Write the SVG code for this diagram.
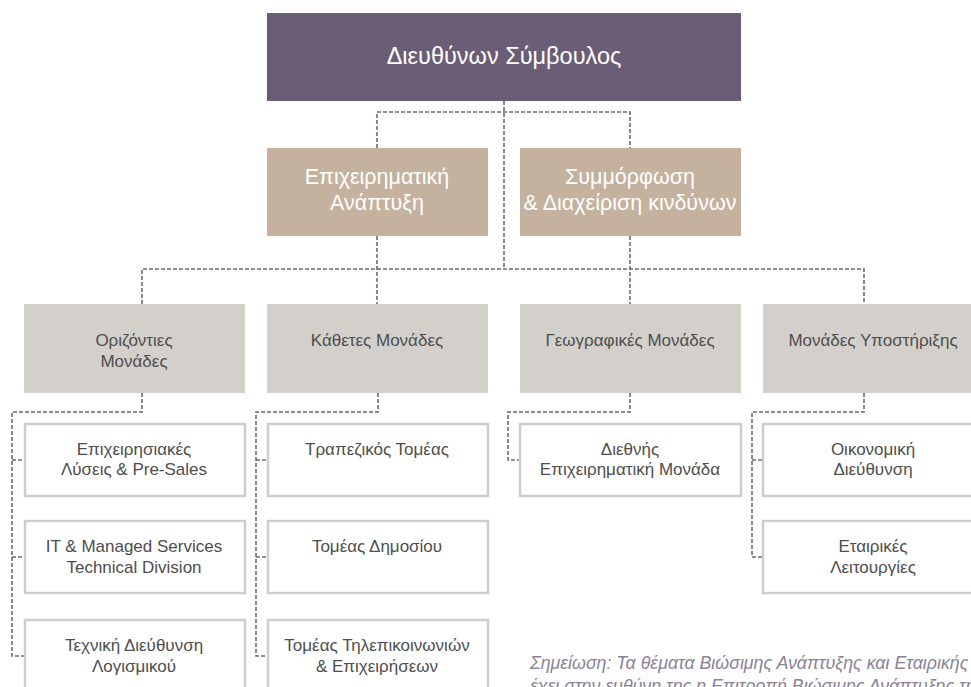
<svg xmlns="http://www.w3.org/2000/svg" width="971" height="687" viewBox="0 0 971 687">
<style>
.t{font-family:"Liberation Sans",Arial,sans-serif;text-anchor:middle}
.w{fill:#ffffff}
.g{fill:#4e4e4e;font-size:17px}
.l2{font-size:21.5px}
.l3{fill:#d3d0cb}
.ch{fill:#ffffff;stroke:#cdcdcd;stroke-width:2.5}
.c{fill:none;stroke:#6e6679;stroke-width:1.6;stroke-dasharray:4 2}
.note{font-family:"Liberation Sans",Arial,sans-serif;font-style:italic;font-size:17.8px;fill:#8a8296}
</style>
<rect width="971" height="687" fill="#ffffff"/>
<g id="connectors">
<path class="c" d="M504,101 V269"/>
<path class="c" d="M377,148 V112 H630 V148"/>
<path class="c" d="M377,236 V304"/>
<path class="c" d="M630,236 V304"/>
<path class="c" d="M142,304 V269 H864 V304"/>
<path class="c" d="M142,393 V412 H12 V656 H24 M12,460 H24 M12,557 H24"/>
<path class="c" d="M378,393 V412 H256 V656 H267 M256,460 H267 M256,557 H267"/>
<path class="c" d="M630,393 V412 H508 V460 H520"/>
<path class="c" d="M864,393 V412 H752 V557 H763 M752,460 H763"/>
</g>
<g id="ceo">
<rect x="267" y="13" width="474" height="88" fill="#6a5e76"/>
<text class="t w" x="504" y="64" font-size="23.5">Διευθύνων Σύμβουλος</text>
</g>
<g id="bizdev">
<rect x="267" y="148" width="221" height="88" fill="#c4b19e"/>
<text class="t w l2" x="377" y="184">Επιχειρηματική</text>
<text class="t w l2" x="377" y="210">Ανάπτυξη</text>
</g>
<g id="compliance">
<rect x="520" y="148" width="221" height="88" fill="#c4b19e"/>
<text class="t w l2" x="630" y="184">Συμμόρφωση</text>
<text class="t w l2" x="630" y="210">&amp; Διαχείριση κινδύνων</text>
</g>
<g id="horizontal">
<rect class="l3" x="24" y="304" width="221" height="89"/>
<text class="t g" x="134" y="346">Οριζόντιες</text>
<text class="t g" x="134" y="367">Μονάδες</text>
</g>
<g id="vertical">
<rect class="l3" x="267" y="304" width="221" height="89"/>
<text class="t g" x="377" y="346">Κάθετες Μονάδες</text>
</g>
<g id="geographic">
<rect class="l3" x="520" y="304" width="221" height="89"/>
<text class="t g" x="630" y="346">Γεωγραφικές Μονάδες</text>
</g>
<g id="support">
<rect class="l3" x="763" y="304" width="221" height="89"/>
<text class="t g" x="873" y="346">Μονάδες Υποστήριξης</text>
</g>
<g id="h1">
<rect class="ch" x="25" y="424" width="220" height="72"/>
<text class="t g" x="134" y="455">Επιχειρησιακές</text>
<text class="t g" x="134" y="475">Λύσεις &amp; Pre-Sales</text>
</g>
<g id="h2">
<rect class="ch" x="25" y="521" width="220" height="72"/>
<text class="t g" x="134" y="552">IT &amp; Managed Services</text>
<text class="t g" x="134" y="573">Technical Division</text>
</g>
<g id="h3">
<rect class="ch" x="25" y="620" width="220" height="80"/>
<text class="t g" x="134" y="651">Τεχνική Διεύθυνση</text>
<text class="t g" x="134" y="672">Λογισμικού</text>
</g>
<g id="v1">
<rect class="ch" x="268" y="424" width="220" height="72"/>
<text class="t g" x="377" y="455">Τραπεζικός Τομέας</text>
</g>
<g id="v2">
<rect class="ch" x="268" y="521" width="220" height="72"/>
<text class="t g" x="377" y="552">Τομέας Δημοσίου</text>
</g>
<g id="v3">
<rect class="ch" x="268" y="620" width="220" height="80"/>
<text class="t g" x="377" y="651">Τομέας Τηλεπικοινωνιών</text>
<text class="t g" x="377" y="672">&amp; Επιχειρήσεων</text>
</g>
<g id="g1">
<rect class="ch" x="520" y="424" width="221" height="72"/>
<text class="t g" x="630" y="455">Διεθνής</text>
<text class="t g" x="630" y="475">Επιχειρηματική Μονάδα</text>
</g>
<g id="s1">
<rect class="ch" x="763" y="424" width="221" height="72"/>
<text class="t g" x="873" y="455">Οικονομική</text>
<text class="t g" x="873" y="475">Διεύθυνση</text>
</g>
<g id="s2">
<rect class="ch" x="763" y="521" width="221" height="72"/>
<text class="t g" x="873" y="552">Εταιρικές</text>
<text class="t g" x="873" y="573">Λειτουργίες</text>
</g>
<g id="note">
<text class="note" x="530" y="669">Σημείωση: Τα θέματα Βιώσιμης Ανάπτυξης και Εταιρικής</text>
<text class="note" x="530" y="692">έχει στην ευθύνη της η Επιτροπή Βιώσιμης Ανάπτυξης της</text>
</g>
</svg>
